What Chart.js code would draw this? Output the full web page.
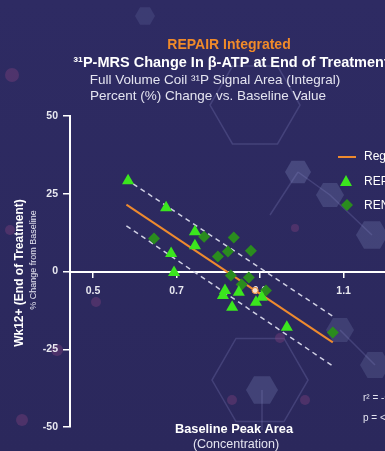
<!DOCTYPE html>
<html><head><meta charset="utf-8">
<script src="https://cdn.jsdelivr.net/npm/chart.js@4.4.1/dist/chart.umd.min.js"></script>
<style>html,body{margin:0;padding:0;overflow:hidden;background:#2d2a60;width:385px;height:451px}
#wrap{position:relative;width:490px;height:451px}</style>
</head><body><div id="wrap"><canvas id="c" width="490" height="451"></canvas></div>
<script>
const xTicks = [0.5, 0.7, 0.9, 1.1, 1.3];
const yTicks = [-50, -25, 0, 25, 50];
const triX = [0.584, 0.675, 0.744, 0.744, 0.687, 0.694, 0.816, 0.811, 0.849, 0.833, 0.890, 0.904, 0.964];
const triY = [29.2, 20.5, 12.8, 8.3, 5.8, -0.3, -6.1, -7.7, -6.7, -11.5, -9.9, -8.3, -17.9];
const diaX = [0.646, 0.766, 0.837, 0.823, 0.878, 0.799, 0.830, 0.856, 0.873, 0.914, 1.074];
const diaY = [10.6, 11.2, 10.9, 6.4, 6.7, 4.8, -1.3, -4.2, -1.9, -6.1, -19.6];
const regX = [0.58, 1.074];
const regY = [21.5, -22.8];
const upX = [0.596, 1.074];
const upY = [28.2, -14.4];
const loX = [0.58, 1.074];
const loY = [14.7, -30.4];
const outX = [0.888];
const outY = [-6.1];
const legendLabels = ["Regression", "REPAIR Cohort 1", "RENEW Cohort 2"];

const pts = (xs, ys) => xs.map((x, i) => ({x, y: ys[i]}));
const FONT = "'Liberation Sans', Arial, sans-serif";

const bgPlugin = {
  id: 'bg',
  beforeDraw(chart) {
    const ctx = chart.ctx;
    ctx.save();
    const g = ctx.createLinearGradient(0, 0, 0, 451);
    g.addColorStop(0, '#2e2b63');
    g.addColorStop(1, '#2b285c');
    ctx.fillStyle = g;
    ctx.fillRect(0, 0, chart.width, chart.height);
    function hex(cx, cy, r, stroke, fill) {
      ctx.beginPath();
      for (let i = 0; i < 6; i++) {
        const a = Math.PI / 3 * i;
        const px = cx + r * Math.cos(a), py = cy + r * Math.sin(a);
        i ? ctx.lineTo(px, py) : ctx.moveTo(px, py);
      }
      ctx.closePath();
      if (fill) { ctx.fillStyle = fill; ctx.fill(); }
      if (stroke) { ctx.strokeStyle = stroke; ctx.lineWidth = 1.5; ctx.stroke(); }
    }
    const st = 'rgba(130,130,190,0.28)';
    hex(260, 380, 48, st, null);
    hex(255, 105, 45, st, null);
    hex(298, 172, 13, null, 'rgba(120,130,180,0.35)');
    hex(262, 390, 16, null, 'rgba(120,130,180,0.3)');
    hex(330, 195, 14, null, 'rgba(120,130,180,0.3)');
    hex(372, 235, 16, null, 'rgba(120,130,180,0.3)');
    hex(340, 330, 14, null, 'rgba(120,130,180,0.25)');
    hex(375, 365, 15, null, 'rgba(120,130,180,0.25)');
    hex(145, 16, 10, null, 'rgba(120,130,180,0.2)');
    ctx.strokeStyle = st; ctx.lineWidth = 1.5;
    ctx.beginPath(); ctx.moveTo(298, 172); ctx.lineTo(330, 195); ctx.lineTo(372, 235);
    ctx.moveTo(298, 172); ctx.lineTo(270, 215); ctx.moveTo(262, 390); ctx.lineTo(262, 430);
    ctx.moveTo(340, 330); ctx.lineTo(375, 365); ctx.stroke();
    const dots = [[12, 75, 7], [295, 228, 4], [280, 338, 5], [232, 400, 5], [96, 302, 5], [57, 350, 6], [22, 420, 6], [305, 400, 5], [10, 230, 5]];
    ctx.fillStyle = 'rgba(140,70,130,0.35)';
    dots.forEach(d => { ctx.beginPath(); ctx.arc(d[0], d[1], d[2], 0, Math.PI * 2); ctx.fill(); });
    ctx.restore();
  }
};

const textPlugin = {
  id: 'texts',
  afterDraw(chart) {
    const ctx = chart.ctx;
    ctx.save();
    ctx.textAlign = 'center';
    ctx.textBaseline = 'middle';
    ctx.fillStyle = '#f08a2a';
    ctx.font = 'bold 14px ' + FONT;
    ctx.fillText('REPAIR Integrated', 229, 45);
    ctx.fillStyle = '#ffffff';
    ctx.font = 'bold 14.5px ' + FONT;
    ctx.fillText('³¹P-MRS Change In β-ATP at End of Treatment', 231, 63);
    ctx.fillStyle = '#e4e4f0';
    ctx.font = '13.5px ' + FONT;
    ctx.fillText('Full Volume Coil ³¹P Signal Area (Integral)', 215, 80);
    ctx.fillText('Percent (%) Change vs. Baseline Value', 208, 96);
    // x title
    ctx.fillStyle = '#ffffff';
    ctx.font = 'bold 12.8px ' + FONT;
    ctx.fillText('Baseline Peak Area', 234, 429);
    ctx.font = '12.5px ' + FONT;
    ctx.fillStyle = '#e4e4f0';
    ctx.fillText('(Concentration)', 236, 445);
    // y title
    ctx.save();
    ctx.translate(20, 273);
    ctx.rotate(-Math.PI / 2);
    ctx.fillStyle = '#ffffff';
    ctx.font = 'bold 12px ' + FONT;
    ctx.fillText('Wk12+ (End of Treatment)', 0, 0);
    ctx.restore();
    ctx.save();
    ctx.translate(34, 260);
    ctx.rotate(-Math.PI / 2);
    ctx.fillStyle = '#e4e4f0';
    ctx.font = '9px ' + FONT;
    ctx.fillText('% Change from Baseline', 0, 0);
    ctx.restore();
    // legend
    ctx.textAlign = 'left';
    ctx.font = '12px ' + FONT;
    ctx.strokeStyle = '#ee8a2e'; ctx.lineWidth = 2;
    ctx.beginPath(); ctx.moveTo(338, 157); ctx.lineTo(356, 157); ctx.stroke();
    ctx.fillStyle = '#ffffff';
    ctx.fillText(legendLabels[0], 364, 157);
    ctx.fillStyle = '#3be61e';
    ctx.beginPath(); ctx.moveTo(346, 175); ctx.lineTo(352, 186); ctx.lineTo(340, 186); ctx.closePath(); ctx.fill();
    ctx.fillStyle = '#ffffff';
    ctx.fillText(legendLabels[1], 364, 182);
    ctx.fillStyle = '#2a8c1e';
    ctx.beginPath(); ctx.moveTo(347, 199); ctx.lineTo(353, 205); ctx.lineTo(347, 211); ctx.lineTo(341, 205); ctx.closePath(); ctx.fill();
    ctx.fillStyle = '#ffffff';
    ctx.fillText(legendLabels[2], 364, 206);
    // stats
    ctx.font = '10px ' + FONT;
    ctx.fillStyle = '#e4e4f0';
    ctx.fillText('r² = -0.81', 363, 398);
    ctx.fillText('p = <0.001', 363, 418);
    ctx.restore();
  }
};

new Chart(document.getElementById('c'), {
  type: 'scatter',
  data: {
    datasets: [
      {type: 'line', data: pts(upX, upY), borderColor: '#d0d0e4', borderWidth: 1.5, borderDash: [5, 4], pointRadius: 0, fill: false, order: 5},
      {type: 'line', data: pts(loX, loY), borderColor: '#d0d0e4', borderWidth: 1.5, borderDash: [5, 4], pointRadius: 0, fill: false, order: 5},
      {type: 'line', data: pts(regX, regY), borderColor: '#ee8a2e', borderWidth: 2, pointRadius: 0, fill: false, order: 4},
      {data: pts(diaX, diaY), pointStyle: 'rectRot', pointRadius: 6, backgroundColor: '#2a8c1e', borderColor: '#2a8c1e', borderWidth: 0, order: 3},
      {data: pts(outX, outY), pointStyle: 'circle', pointRadius: 3, backgroundColor: '#f4e0d0', borderColor: '#ee8a2e', borderWidth: 1, order: 2},
      {data: pts(triX, triY), pointStyle: 'triangle', pointRadius: 7, backgroundColor: '#3be61e', borderColor: '#3be61e', borderWidth: 0, order: 1}
    ]
  },
  options: {
    responsive: false,
    animation: false,
    layout: {padding: {top: 116, bottom: 24, left: 0, right: 21}},
    plugins: {legend: {display: false}, tooltip: {enabled: false}, title: {display: false}},
    scales: {
      x: {
        type: 'linear', min: 0.445, max: 1.4, position: {y: 0},
        afterBuildTicks: s => { s.ticks = xTicks.map(v => ({value: v})); },
        ticks: {color: '#e8e8f0', font: {family: FONT, size: 10.5, weight: 'bold'}, padding: 8, callback: v => v.toFixed(1)},
        grid: {display: true, drawOnChartArea: false, drawTicks: true, tickLength: 5, color: '#ffffff', lineWidth: 1.5},
        border: {display: true, color: '#ffffff', width: 2}
      },
      y: {
        type: 'linear', min: -50, max: 50, position: 'left',
        afterBuildTicks: s => { s.ticks = yTicks.map(v => ({value: v})); },
        afterFit: s => { s.width = 70; },
        ticks: {color: '#e8e8f0', font: {family: FONT, size: 10.5, weight: 'bold'}, padding: 5},
        grid: {display: true, drawOnChartArea: false, drawTicks: true, tickLength: 7, color: '#ffffff', lineWidth: 1.5},
        border: {display: true, color: '#ffffff', width: 2}
      }
    }
  },
  plugins: [bgPlugin, textPlugin]
});
</script></body></html>
